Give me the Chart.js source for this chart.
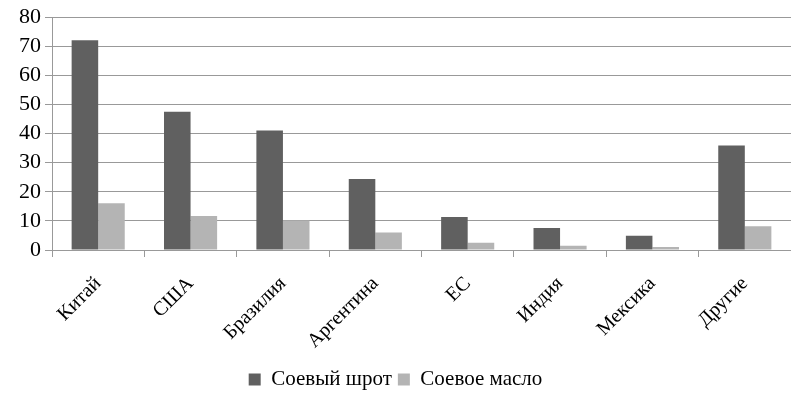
<!DOCTYPE html>
<html><head><meta charset="utf-8">
<script src="https://cdn.jsdelivr.net/npm/chart.js@4/dist/chart.umd.min.js"></script>
<style>html,body{margin:0;padding:0;background:#fff}#w{width:791px;height:400px}</style>
</head><body><div id="w"><canvas id="c"></canvas></div>
<script>
const categories = ['Китай','США','Бразилия','Аргентина','ЕС','Индия','Мексика','Другие'];
const mealValues = [72.1, 47.5, 41.1, 24.4, 11.3, 7.6, 4.9, 35.9];
const oilValues = [16.1, 11.7, 10.1, 6.0, 2.5, 1.5, 1.0, 8.2];
const seriesNames = ['Соевый шрот','Соевое масло'];
const yTicks = [0,10,20,30,40,50,60,70,80];

const FONT = "'Liberation Serif', 'Times New Roman', serif";
Chart.defaults.font.family = FONT;
Chart.defaults.color = '#000';
new Chart(document.getElementById('c'), {
  type: 'bar',
  data: {
    labels: categories,
    datasets: [
      {label: seriesNames[0], data: mealValues, backgroundColor: '#606060', borderWidth: 0},
      {label: seriesNames[1], data: oilValues, backgroundColor: '#b4b4b4', borderWidth: 0}
    ]
  },
  options: {
    responsive: true, maintainAspectRatio: false, animation: false,
    layout: {padding: {left: 0, right: 0, top: 15, bottom: 0}},
    datasets: {bar: {categoryPercentage: 0.575, barPercentage: 1}},
    plugins: {
      legend: {position: 'bottom', labels: {font: {family: FONT, size: 21}, color: '#000', boxWidth: 12, boxHeight: 12, padding: 6}},
      tooltip: {enabled: false}
    },
    scales: {
      x: {
        afterFit: (s) => { s.height = 113; },
        grid: {display: true, drawOnChartArea: false, drawTicks: true, tickLength: 7, color: '#999', offset: true},
        border: {display: true, color: '#999', width: 1},
        ticks: {font: {family: FONT, size: 20}, color: '#000', minRotation: 45, maxRotation: 45, padding: 15, autoSkip: false}
      },
      y: {
        min: 0, max: 80,
        afterFit: (s) => { s.width = 52; },
        afterBuildTicks: (s) => { s.ticks = yTicks.map(v => ({value: v})); },
        grid: {color: '#999', tickLength: 7, drawTicks: true},
        border: {display: true, color: '#999', width: 1},
        ticks: {font: {family: FONT, size: 22}, color: '#000', padding: 4, autoSkip: false}
      }
    }
  }
});
</script></body></html>
